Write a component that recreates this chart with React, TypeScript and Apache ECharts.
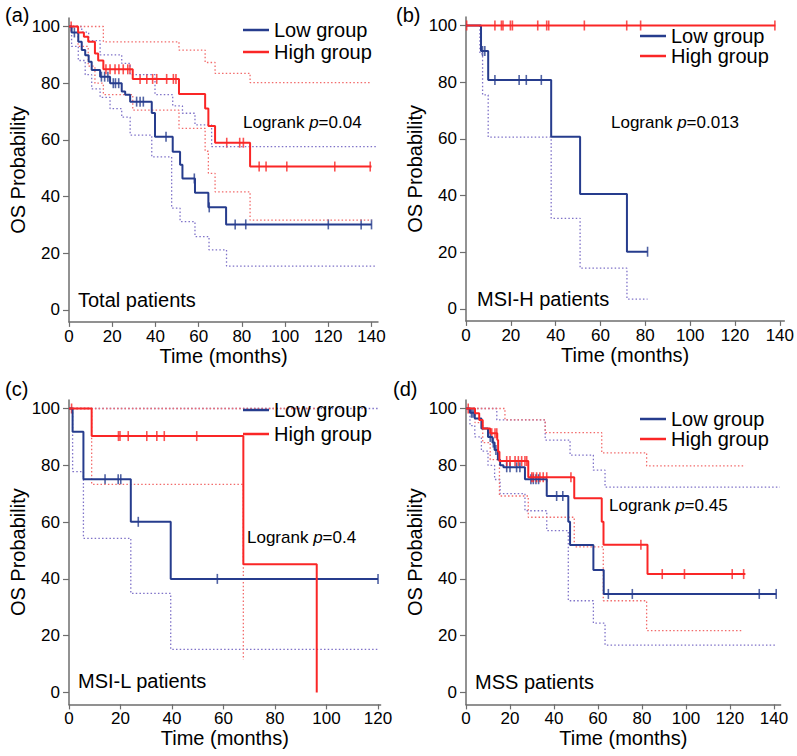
import React, { useEffect, useRef } from 'react';
import * as echarts from 'echarts';

const FONT = '"Liberation Sans", Arial, Helvetica, sans-serif';
const BLUE = '#263c8d';
const RED = '#fa2626';
const BLUE_CI = '#7f72c8';
const RED_CI = '#f26b6b';

// ---------- tick values ----------
const xTicks140 = [0, 20, 40, 60, 80, 100, 120, 140];
const xTicks120 = [0, 20, 40, 60, 80, 100, 120];
const yTicks = [0, 20, 40, 60, 80, 100];

// ---------- (a) Total patients ----------
const aLow = [[0,100],[1.2,97.9],[4.3,94.6],[5.9,91.7],[7.5,89.9],[9.1,87.6],[10.5,84.7],[14.4,82.3],[19,80],[24.4,77.1],[26,75.9],[28.3,73.5],[38.3,69.5],[39.8,61.1],[48,55.8],[51.4,51.2],[52.5,46.4],[58.3,41.4],[64.5,36.2],[72.7,30.2],[140,30.2]];
const aLowCens = [[2.5,97.9],[15,82.3],[16.5,82.3],[18,82.3],[20.5,80],[21.5,80],[23,80],[31.3,73.5],[32.9,73.5],[34.4,73.5],[44.9,61.1],[58,46.4],[64.9,36.2],[76.9,30.2],[81.8,30.2],[120,30.2],[135.2,30.2],[140,30.2]];
const aHigh = [[0,100],[4.2,97.9],[6.9,96.4],[8.9,94.6],[12,90.5],[13.5,88],[15.9,84.9],[29.5,81.5],[50.9,76.2],[63,71.1],[64.5,64.9],[67.6,59],[83.8,50.6],[140,50.6]];
const aHighCens = [[1,100],[17.1,84.9],[19,84.9],[21.3,84.9],[23.1,84.9],[25.1,84.9],[27.2,84.9],[28.2,84.9],[32.9,81.5],[36,81.5],[38.7,81.5],[40.6,81.5],[45.2,81.5],[48.3,81.5],[49.5,81.5],[73,59],[79,59],[80.7,59],[88,50.6],[91.2,50.6],[100.8,50.6],[123,50.6],[139.4,50.6]];
const aHighUp = [[0,100],[15.9,94.6],[50.9,91.7],[63,87.3],[67.6,83.5],[83.8,80.2],[140,80.2]];
const aHighLo = [[0,100],[4.2,93],[8.9,86],[12,80],[15.9,76],[29.5,70.5],[50.9,64.1],[63,56],[64.5,48.2],[67.6,41.7],[83.8,31.7],[140,31.7]];
const aLowUp = [[0,100],[5.9,98],[9.1,95],[14.4,90],[24.4,87],[28.3,83],[39.8,76],[48,72],[52.5,69.4],[58.3,65.3],[66,57.6],[142,57.6]];
const aLowLo = [[0,100],[1.2,93],[4.3,88],[7.5,83],[10.5,78],[14.4,75],[19,71],[24.4,68],[28.3,61.7],[38.3,54],[47.5,35.9],[51.4,31.2],[58.3,25.9],[64.8,21.2],[72.9,15.5],[142,15.5]];

// ---------- (b) MSI-H patients ----------
const bLow = [[0,100],[6.7,91],[9.9,80.8],[38,60.8],[50.9,40.6],[71.8,20.2],[81,20.2]];
const bLowCens = [[7.4,91],[8.4,91],[12.9,80.8],[23.7,80.8],[26.9,80.8],[33.6,80.8],[81,20.2]];
const bHigh = [[0,100],[138,100]];
const bHighCens = [[0.3,100],[12.9,100],[15.8,100],[16.5,100],[19.8,100],[20.7,100],[32,100],[36,100],[36.9,100],[52.8,100],[71.7,100],[77.9,100],[137.8,100]];
const bLowLo = [[6.2,100],[6.2,90],[7.4,75.5],[9.9,60.6],[38,32],[50.9,14.4],[71.8,3.5],[81,3.5]];

// ---------- (c) MSI-L patients ----------
const cLow = [[0,100],[1.4,91.8],[5.6,75.1],[24,60.1],[39.5,40],[120,40]];
const cLowCens = [[14,75.1],[19.1,75.1],[20.1,75.1],[26.9,60.1],[57.6,40],[120,40]];
const cHigh = [[0,100],[8.8,90.3],[67.7,45.2],[96.2,0]];
const cHighCens = [[1,100],[19.2,90.3],[19.8,90.3],[23,90.3],[30.2,90.3],[34.1,90.3],[37,90.3],[49.6,90.3]];
const cLowUp = [[0,100],[120,100]];
const cHighUp = [[0,100],[96.2,100]];
const cHighLo = [[0,100],[8.8,73.3],[67.7,11.4]];
const cLowLo = [[0,100],[1.4,77.8],[5.6,54.3],[24,34.9],[39.5,15.2],[120,15.2]];

// ---------- (d) MSS patients ----------
const dLow = [[0,100],[1.8,98.5],[4,96.5],[7,93],[10,90],[12,88],[13,85.4],[14.5,82],[15.5,80],[17,79.3],[26.8,75.1],[36.7,69.2],[46.5,60.1],[47.3,51.9],[57.9,43.1],[62.6,34.7],[141,34.7]];
const dLowCens = [[2.5,98.5],[3.2,98.5],[11,90],[12.4,88],[13.6,85.4],[18.5,79.3],[20,79.3],[23,79.3],[24.5,79.3],[29.5,75.1],[30.6,75.1],[31.8,75.1],[33,75.1],[41.2,69.2],[44,69.2],[64.7,34.7],[75.6,34.7],[133.3,34.7],[141,34.7]];
const dHigh = [[0,100],[4.1,98.3],[6,96],[7.6,93],[11,91.3],[14.2,88.9],[14.6,84.8],[15.2,81.5],[28.3,75.8],[49.2,68.4],[61.7,60.1],[62.5,52],[82.5,41.7],[127,41.7]];
const dHighCens = [[1,100],[11.7,91.3],[13.2,91.3],[14,91.3],[18.5,81.5],[20,81.5],[22.3,81.5],[23.8,81.5],[25.3,81.5],[26.8,81.5],[27.6,81.5],[29.9,75.8],[30.6,75.8],[32.1,75.8],[33.6,75.8],[35.1,75.8],[36.7,75.8],[47.7,75.8],[79.5,52],[89.2,41.7],[99.3,41.7],[121,41.7],[126.2,41.7]];
const dHighUp = [[0,100],[17.7,96],[36,91.5],[61.7,84.4],[82.1,79.8],[127,79.8]];
const dHighLo = [[0,100],[4.1,95],[7.6,88],[11,82],[15.2,69.2],[28.3,61.7],[49.2,51.3],[62.4,32.3],[82.1,21.8],[125.8,21.8]];
const dLowUp = [[0,100],[14,96],[36,88.9],[47.3,83.6],[57.9,78.3],[63.2,72.3],[142.7,72.3]];
const dLowLo = [[0,100],[1.8,94],[4,90],[7,85],[10,80],[13,75],[15.5,70],[26.8,64],[36.7,57],[46.5,32.3],[57.9,24.4],[63.2,16.7],[141,16.7]];

const panels = [
  {
    grid: { left: 69, top: 18, width: 309, height: 303.9 }, xMax: 143, xTicks: xTicks140, yGap: 34.5,
    low: aLow, high: aHigh, lowCens: aLowCens, highCens: aHighCens,
    ci: [[aLowUp, BLUE_CI], [aLowLo, BLUE_CI], [aHighUp, RED_CI], [aHighLo, RED_CI]],
    legend: { left: 243, top: 20, itemGap: 2 },
    letter: ['(a)', 5, 15], sub: ['Total patients', 78, 300], logrank: ['0.04', 243, 122],
  },
  {
    grid: { left: 466, top: 17, width: 320.2, height: 303.9 }, xMax: 142, xTicks: xTicks140, yGap: 36,
    low: bLow, high: bHigh, lowCens: bLowCens, highCens: bHighCens,
    ci: [[bLowLo, BLUE_CI]],
    legend: { left: 640, top: 26, itemGap: 0 },
    letter: ['(b)', 396, 15], sub: ['MSI-H patients', 477, 299], logrank: ['0.013', 611, 122],
  },
  {
    grid: { left: 69, top: 400, width: 311.6, height: 304.4 }, xMax: 121, xTicks: xTicks120, yGap: 33,
    low: cLow, high: cHigh, lowCens: cLowCens, highCens: cHighCens,
    ci: [[cLowUp, BLUE_CI], [cLowLo, BLUE_CI], [cHighUp, RED_CI], [cHighLo, RED_CI]],
    legend: { left: 243, top: 400, itemGap: 4 },
    letter: ['(c)', 5, 389], sub: ['MSI-L patients', 78, 681], logrank: ['0.4', 247, 537],
  },
  {
    grid: { left: 466, top: 400, width: 314.6, height: 304.4 }, xMax: 143, xTicks: xTicks140, yGap: 34,
    low: dLow, high: dHigh, lowCens: dLowCens, highCens: dHighCens,
    ci: [[dLowUp, BLUE_CI], [dLowLo, BLUE_CI], [dHighUp, RED_CI], [dHighLo, RED_CI]],
    legend: { left: 640, top: 409, itemGap: 0 },
    letter: ['(d)', 393, 389], sub: ['MSS patients', 475, 682], logrank: ['0.45', 609, 505],
  },
];

function buildOption() {
  const axisColor = '#6e6e6e';
  const grid = panels.map((p) => ({ ...p.grid, containLabel: false }));
  const xAxis = panels.map((p, i) => ({
    type: 'value', gridIndex: i, min: 0, max: p.xMax,
    name: 'Time (months)', nameLocation: 'middle', nameGap: 24,
    nameTextStyle: { fontSize: 20, color: '#000', fontFamily: FONT },
    axisLine: { onZero: false, lineStyle: { color: axisColor, width: 1.5 } },
    axisTick: { length: 5, customValues: p.xTicks, lineStyle: { color: axisColor, width: 1.2 } },
    axisLabel: { customValues: p.xTicks, fontSize: 17, color: '#000', fontFamily: FONT, margin: 6 },
    splitLine: { show: false },
  }));
  const yAxis = panels.map((p, i) => ({
    type: 'value', gridIndex: i, min: -4.2, max: 103,
    name: 'OS Probability', nameLocation: 'middle', nameGap: p.yGap, nameRotate: 90,
    nameTextStyle: { fontSize: 20, color: '#000', fontFamily: FONT },
    axisLine: { onZero: false, lineStyle: { color: axisColor, width: 1.5 } },
    axisTick: { length: 6, customValues: yTicks, lineStyle: { color: axisColor, width: 1.2 } },
    axisLabel: { customValues: yTicks, fontSize: 17, color: '#000', fontFamily: FONT, margin: 9 },
    splitLine: { show: false },
  }));
  const series: any[] = [];
  panels.forEach((p, i) => {
    p.ci.forEach(([data, color]: any, k: number) => {
      series.push({
        type: 'line', name: 'CI' + i + '_' + k, xAxisIndex: i, yAxisIndex: i, data, step: 'end',
        symbol: 'none', silent: true, color,
        lineStyle: { color, width: 1.3, type: [1.5, 2.2] },
      });
    });
    series.push({
      type: 'line', name: 'Low group', xAxisIndex: i, yAxisIndex: i, data: p.low, step: 'end',
      symbol: 'none', color: BLUE, itemStyle: { color: BLUE }, lineStyle: { color: BLUE, width: 2 },
    });
    series.push({
      type: 'line', name: 'High group', xAxisIndex: i, yAxisIndex: i, data: p.high, step: 'end',
      symbol: 'none', color: RED, itemStyle: { color: RED }, lineStyle: { color: RED, width: 2 },
    });
    series.push({
      type: 'scatter', name: 'Low censored ' + i, xAxisIndex: i, yAxisIndex: i, data: p.lowCens,
      symbol: 'rect', symbolSize: [1.6, 10], itemStyle: { color: BLUE },
    });
    series.push({
      type: 'scatter', name: 'High censored ' + i, xAxisIndex: i, yAxisIndex: i, data: p.highCens,
      symbol: 'rect', symbolSize: [1.6, 10], itemStyle: { color: RED },
    });
  });
  const legend = panels.map((p) => ({
    data: ['Low group', 'High group'], orient: 'vertical', left: p.legend.left, top: p.legend.top,
    itemGap: p.legend.itemGap, padding: 0, icon: 'rect', itemWidth: 26, itemHeight: 2.5,
    selectedMode: false,
    textStyle: { fontSize: 20, color: '#000', fontFamily: FONT, lineHeight: 17 },
  }));
  const graphic: any[] = [];
  panels.forEach((p) => {
    const [lt, lx, ly] = p.letter as any;
    graphic.push({ type: 'text', x: lx, y: ly, silent: true,
      style: { text: lt, fontSize: 20, fontFamily: FONT, fill: '#000', align: 'left', verticalAlign: 'middle' } });
    const [st, sx, sy] = p.sub as any;
    graphic.push({ type: 'text', x: sx, y: sy, silent: true,
      style: { text: st, fontSize: 20, fontFamily: FONT, fill: '#000', align: 'left', verticalAlign: 'middle' } });
    const [pv, px, py] = p.logrank as any;
    graphic.push({ type: 'text', x: px, y: py, silent: true,
      style: {
        text: 'Logrank {i|p}=' + pv, fontSize: 17, fontFamily: FONT, fill: '#000',
        align: 'left', verticalAlign: 'middle',
        rich: { i: { fontStyle: 'italic', fontSize: 17, fontFamily: FONT, fill: '#000' } },
      } });
  });
  return {
    animation: false, backgroundColor: '#ffffff',
    grid, xAxis, yAxis, series, legend, graphic,
  };
}

export default function App() {
  const ref = useRef<HTMLDivElement>(null);
  useEffect(() => {
    if (!ref.current) return;
    const chart = echarts.init(ref.current, null, { renderer: 'svg' });
    chart.setOption(buildOption() as any);
    return () => chart.dispose();
  }, []);
  return (
    <div
      ref={ref}
      style={{ position: 'fixed', left: 0, top: 0, width: 797, height: 756, background: '#fff' }}
    />
  );
}
